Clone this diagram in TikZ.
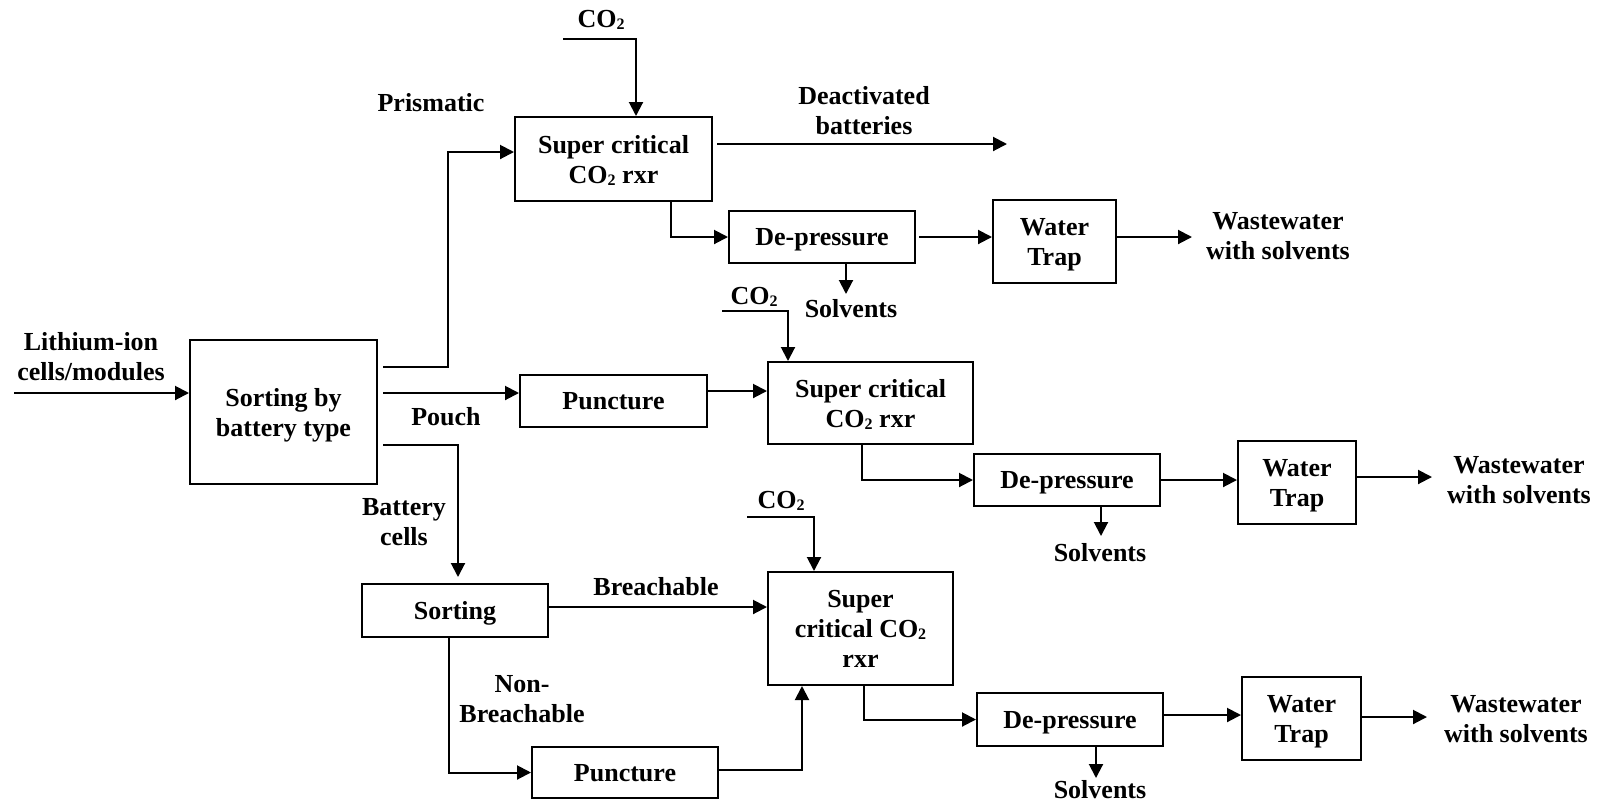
\documentclass[tikz,border=0pt]{standalone}
\usepackage{fontspec}
\setmainfont{Liberation Serif}
\usetikzlibrary{arrows.meta}
\newcommand\cotwo{CO\raisebox{-0.1em}{\fontsize{16}{16}\selectfont 2}}

\begin{document}
\begin{tikzpicture}[x=1pt, y=-1pt, line width=2pt,
  box/.style={draw, line width=2pt, inner sep=0pt, align=center, text depth=0pt,
              font=\bfseries\fontsize{26}{30}\selectfont},
  lbl/.style={inner sep=0pt, align=center,
              font=\bfseries\fontsize{26}{30}\selectfont},
  arr/.style={-{Triangle[length=14pt,width=14pt]}, line width=2pt}]

\useasboundingbox (0,0) rectangle (1606,804);

% process blocks
\node[box, minimum width=187pt, minimum height=144pt] (sort)  at (283.5,412)  {Sorting by\\battery type};
\node[box, minimum width=197pt, minimum height=84pt]  (sc1)   at (613.5,159)  {Super critical\\\cotwo{} rxr};
\node[box, minimum width=186pt, minimum height=52pt]  (dp1)   at (822,237)    {De-pressure};
\node[box, minimum width=123pt, minimum height=83pt]  (wt1)   at (1054.5,241.5) {Water\\Trap};
\node[box, minimum width=187pt, minimum height=52pt]  (pun1)  at (613.5,401)  {Puncture};
\node[box, minimum width=205pt, minimum height=82pt]  (sc2)   at (870.5,403)  {Super critical\\\cotwo{} rxr};
\node[box, minimum width=186pt, minimum height=52pt]  (dp2)   at (1067,480)   {De-pressure};
\node[box, minimum width=118pt, minimum height=83pt]  (wt2)   at (1297,482.5) {Water\\Trap};
\node[box, minimum width=186pt, minimum height=53pt]  (sort2) at (455,610.5)  {Sorting};
\node[box, minimum width=185pt, minimum height=113pt] (sc3)   at (860.5,628.5) {Super\\critical \cotwo\\rxr};
\node[box, minimum width=186pt, minimum height=51pt]  (pun2)  at (625,772.5)  {Puncture};
\node[box, minimum width=186pt, minimum height=53pt]  (dp3)   at (1070,719.5) {De-pressure};
\node[box, minimum width=119pt, minimum height=83pt]  (wt3)   at (1301.5,718.5) {Water\\Trap};

% stream labels
\node[lbl] (lin-t)  at (91,357)    {Lithium-ion\\cells/modules};
\node[lbl] (prism)  at (431,103)   {Prismatic};
\node[lbl] (deact-t) at (864,111)  {Deactivated\\batteries};
\node[lbl] (pouch)  at (446,417)   {Pouch};
\node[lbl] (bcells) at (404,522)   {Battery\\cells};
\node[lbl] (breach) at (656,587)   {Breachable};
\node[lbl] (nonbr)  at (522,699)   {Non-\\Breachable};
\node[lbl] (co-a)   at (601,20)    {\cotwo};
\node[lbl] (co-b)   at (754,297)   {\cotwo};
\node[lbl] (co-c)   at (781,501)   {\cotwo};
\node[lbl] (ww1)    at (1278,236)  {Wastewater\\with solvents};
\node[lbl] (ww2)    at (1519,480)  {Wastewater\\with solvents};
\node[lbl] (ww3)    at (1516,719)  {Wastewater\\with solvents};
\node[lbl] (sol1)   at (851,309)   {Solvents};
\node[lbl] (sol2)   at (1100,553)  {Solvents};
\node[lbl] (sol3)   at (1100,790)  {Solvents};

% free ends and bends
\coordinate (lin)   at (14,393);
\coordinate (b1)    at (448,152);
\coordinate (deact) at (1007,144);
\coordinate (ww1a)  at (1192,237);
\coordinate (ww2a)  at (1432,477);
\coordinate (ww3a)  at (1427,717);
\coordinate (cf1)   at (563,39);
\coordinate (cf2)   at (722,311);
\coordinate (cf3)   at (747,517);

% feed and sorting
\draw[arr] (lin) -- (lin -| sort.west);
\draw[arr, shorten <=5pt] ([yshift=45pt]sort.east) -| (b1) -- (b1 -| sc1.west);
\draw[arr, shorten <=5pt] ([yshift=19pt]sort.east) -- ([yshift=19pt]sort.east -| pun1.west);
\draw[arr, shorten <=5pt, shorten >=6pt] ([yshift=-33pt]sort.east) -| ([xshift=3pt]sort2.north);

% prismatic line
\draw[arr] (cf1) -| ([xshift=22.5pt]sc1.north);
\draw[arr, shorten <=4pt] (deact -| sc1.east) -- (deact);
\draw[arr] ([xshift=57.5pt]sc1.south) |- (dp1.west);
\draw[arr, shorten <=3pt] (dp1.east) -- (dp1.east -| wt1.west);
\draw[arr] (ww1a -| wt1.east) -- (ww1a);
\draw[arr] ([xshift=24pt]dp1.south) -- ++(0,30);

% pouch line
\draw[arr] ([yshift=10pt]pun1.east) -- ([yshift=10pt]pun1.east -| sc2.west);
\draw[arr] (cf2) -| ([xshift=-82.5pt]sc2.north);
\draw[arr] ([xshift=-8.5pt]sc2.south) |- (dp2.west);
\draw[arr] (dp2.east) -- (dp2.east -| wt2.west);
\draw[arr] (ww2a -| wt2.east) -- (ww2a);
\draw[arr] ([xshift=34pt]dp2.south) -- ++(0,29);

% battery cell line
\draw[arr] ([yshift=3.5pt]sort2.east) -- ([yshift=3.5pt]sort2.east -| sc3.west);
\draw[arr] ([xshift=-6pt]sort2.south) |- (pun2.west);
\draw[arr] ([yshift=2.5pt]pun2.east) -| ([xshift=-58.5pt]sc3.south);
\draw[arr] (cf3) -| ([xshift=-46.5pt]sc3.north);
\draw[arr] ([xshift=3.5pt]sc3.south) |- (dp3.west);
\draw[arr] ([yshift=4.5pt]dp3.east) -- ([yshift=4.5pt]dp3.east -| wt3.west);
\draw[arr] (ww3a -| wt3.east) -- (ww3a);
\draw[arr] ([xshift=26pt]dp3.south) -- ++(0,31);

\end{tikzpicture}
\end{document}
